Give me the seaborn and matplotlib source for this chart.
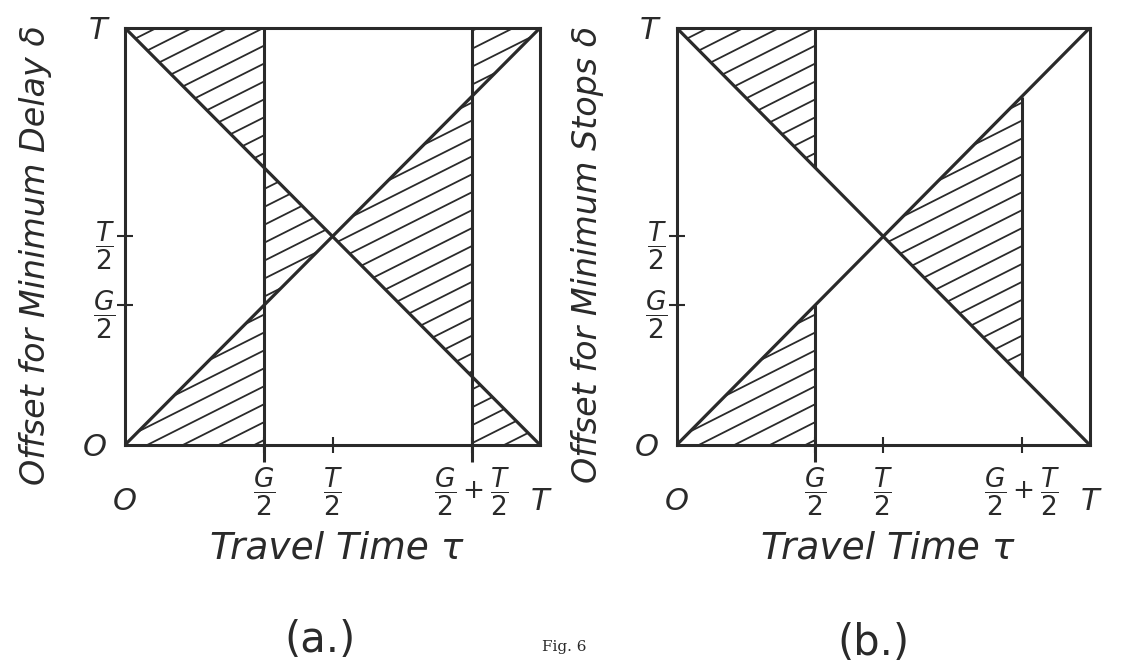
import numpy as np
import matplotlib
matplotlib.use('Agg')
import matplotlib.pyplot as plt
from matplotlib.patches import PathPatch
from matplotlib.path import Path
import seaborn as sns

# ---- values (cycle length T = 1) ----
T = 1.0
G_HALF = 0.335                  # G/2 as drawn
tau_line = [0.0, T]             # travel time end points of the diagonals
delta_rise = [0.0, T]           # delta = tau
delta_fall = [T, 0.0]           # delta = T - tau

x_ticks = [G_HALF, T / 2, G_HALF + T / 2]
x_tick_labels = [r'$\dfrac{G}{2}$', r'$\dfrac{T}{2}$', r'$\dfrac{G}{2}+\dfrac{T}{2}$']
y_ticks = [G_HALF, T / 2]
y_tick_labels = [r'$\dfrac{G}{2}$', r'$\dfrac{T}{2}$']
end_ticks = [0.0, T]
end_labels = ['O', 'T']

# hatched regions: (tau from, tau to, lower edge, upper edge)
regions_a = [(0.0, G_HALF, 'fall', 'top'),
             (0.0, G_HALF, 'zero', 'rise'),
             (G_HALF, T / 2, 'rise', 'fall'),
             (T / 2, G_HALF + T / 2, 'fall', 'rise'),
             (G_HALF + T / 2, T, 'rise', 'top'),
             (G_HALF + T / 2, T, 'zero', 'fall')]
regions_b = [(0.0, G_HALF, 'fall', 'top'),
             (0.0, G_HALF, 'zero', 'rise'),
             (T / 2, G_HALF + T / 2, 'fall', 'rise')]

ylabels = ['Offset for Minimum Delay δ', 'Offset for Minimum Stops δ']
panel_names = ['(a.)', '(b.)']

INK = '#2a2a2a'
HATCH_SLOPE = 0.5
HATCH_STEP = 0.043

sns.set_theme(style='white')
plt.rcParams['font.family'] = ['DejaVu Sans']
plt.rcParams['mathtext.fontset'] = 'dejavusans'


def edge(name, x):
    if name == 'zero':
        return np.zeros_like(x)
    if name == 'top':
        return np.full_like(x, T)
    if name == 'rise':
        return np.interp(x, tau_line, delta_rise)
    return np.interp(x, tau_line, delta_fall)


def hatch(ax, x0, x1, lo, hi):
    xs = np.linspace(x0, x1, 60)
    verts = np.vstack([np.column_stack([xs, edge(lo, xs)]),
                       np.column_stack([xs[::-1], edge(hi, xs[::-1])])])
    patch = PathPatch(Path(verts), facecolor='none', edgecolor='none',
                      transform=ax.transData)
    ax.add_patch(patch)
    for c in np.arange(-HATCH_SLOPE, T + HATCH_STEP, HATCH_STEP):
        ln, = ax.plot(tau_line, [c, c + HATCH_SLOPE * T], color=INK, lw=1.3)
        ln.set_clip_path(patch)


fig = plt.figure(figsize=(11.26, 6.65), dpi=100)
ax_a = fig.add_axes([0.111, 0.331, 0.3686, 0.627])
ax_b = fig.add_axes([0.601, 0.331, 0.3668, 0.627])

for i, (ax, regions) in enumerate([(ax_a, regions_a), (ax_b, regions_b)]):
    ax.set_xlim(0, T)
    ax.set_ylim(0, T)
    for s in ax.spines.values():
        s.set_color(INK)
        s.set_linewidth(2.2)

    sns.lineplot(x=tau_line, y=delta_rise, ax=ax, color=INK, lw=2.3)
    sns.lineplot(x=tau_line, y=delta_fall, ax=ax, color=INK, lw=2.3)

    for r in regions:
        hatch(ax, *r)

    xg = G_HALF
    xgt = G_HALF + T / 2
    if i == 0:
        ax.vlines([xg, xgt], -0.04, T, color=INK, lw=2.2, clip_on=False)
    else:
        ax.vlines(xg, edge('fall', np.array([xg]))[0], T, color=INK, lw=2.2)
        ax.vlines(xg, -0.04, edge('rise', np.array([xg]))[0], color=INK, lw=2.2,
                  clip_on=False)
        ax.vlines(xgt, edge('fall', np.array([xgt]))[0],
                  edge('rise', np.array([xgt]))[0], color=INK, lw=2.2)

    ax.set_xticks(x_ticks, labels=x_tick_labels)
    ax.set_yticks(y_ticks, labels=y_tick_labels)
    ax.set_xticks(end_ticks, labels=end_labels, minor=True)
    ax.set_yticks(end_ticks, labels=end_labels, minor=True)
    ax.tick_params(which='major', direction='inout', length=12, width=1.5,
                   color=INK, labelcolor=INK, labelsize=19)
    ax.tick_params(axis='x', which='major', pad=9)
    ax.tick_params(axis='y', which='major', pad=1)
    ax.tick_params(which='minor', length=0, labelcolor=INK, labelsize=22)
    ax.tick_params(axis='x', which='minor', pad=30)
    ax.tick_params(axis='y', which='minor', pad=13)
    ax.tick_params(bottom=True, left=True, which='both')
    for lab in ax.get_xticklabels(minor=True) + ax.get_yticklabels(minor=True):
        lab.set_fontstyle('italic')

    ax.set_ylabel(ylabels[i], fontsize=24, fontstyle='italic', color=INK)
    ax.yaxis.set_label_coords(-0.177, 0.456)
    ax.set_xlabel('Travel Time τ', fontsize=27, fontstyle='italic', color=INK)
    ax.xaxis.set_label_coords(0.51, -0.205)

fig.text(320 / 1126, 1 - 640 / 665, panel_names[0], fontsize=30, color=INK,
         ha='center', va='center')
fig.text(873 / 1126, 1 - 643 / 665, panel_names[1], fontsize=30, color=INK,
         ha='center', va='center')
fig.text(564 / 1126, 1 - 647 / 665, 'Fig. 6', fontsize=11, color=INK,
         family='DejaVu Serif', ha='center', va='center')

fig.savefig('out.png', dpi=100, facecolor='white')
